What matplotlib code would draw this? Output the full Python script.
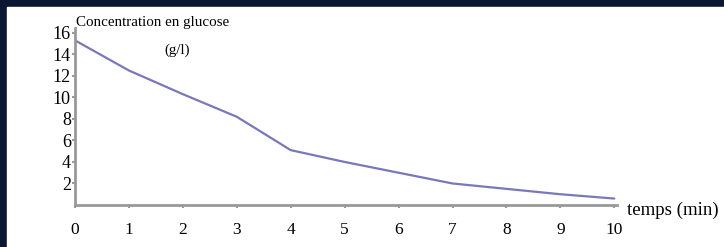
import matplotlib.pyplot as plt
from matplotlib.patches import Rectangle

temps = [0, 1, 2, 3, 4, 5, 6, 7, 8, 9, 10]
glucose = [15.3, 12.5, 10.3, 8.2, 5.1, 4.0, 3.0, 2.0, 1.5, 1.0, 0.6]
yticks = [2, 4, 6, 8, 10, 12, 14, 16]

W, H = 724, 247
fig = plt.figure(figsize=(W / 100, H / 100), dpi=100)
fig.patch.set_facecolor('#0b1633')
# white panel over the dark background
fig.patches.append(Rectangle((7 / W, 0), 1 - 7 / W, 1 - 7 / H,
                             transform=fig.transFigure, color='white', zorder=-5))

ax = fig.add_axes([75 / W, 42 / H, 542 / W, 177 / H])
ax.set_facecolor('none')
ax.set_zorder(2)
ax.plot(temps, glucose, color='#7a78b8', lw=1.6, solid_capstyle='round')
ax.set_xlim(0, 10.05)
ax.set_ylim(0, 16.45)

for s in ['top', 'right']:
    ax.spines[s].set_visible(False)
for s in ['left', 'bottom']:
    ax.spines[s].set_color('#999999')
    ax.spines[s].set_linewidth(2)

serif = 'Liberation Serif'
ax.set_xticks(temps)
ax.set_xticklabels([str(t) for t in temps], family=serif, fontsize=12.5)
ax.set_yticks(yticks)
ax.set_yticklabels([str(v) for v in yticks], family=serif, fontsize=13)
ax.tick_params(axis='x', length=2, width=1.5, color='#999999', pad=10.5)
ax.tick_params(axis='y', length=2, width=1.5, color='#999999', pad=1)

fig.text(76 / W, 1 - 26 / H, 'Concentration en glucose', family=serif,
         fontsize=10.8, ha='left', va='baseline', zorder=3)
fig.text(177 / W, 1 - 54 / H, '(g/l)', family=serif,
         fontsize=10.8, ha='center', va='baseline', zorder=3)
fig.text(627 / W, 1 - 215 / H, 'temps (min)', family=serif,
         fontsize=13.6, ha='left', va='baseline', zorder=3)

fig.savefig('out.png', dpi=100, facecolor=fig.get_facecolor())
